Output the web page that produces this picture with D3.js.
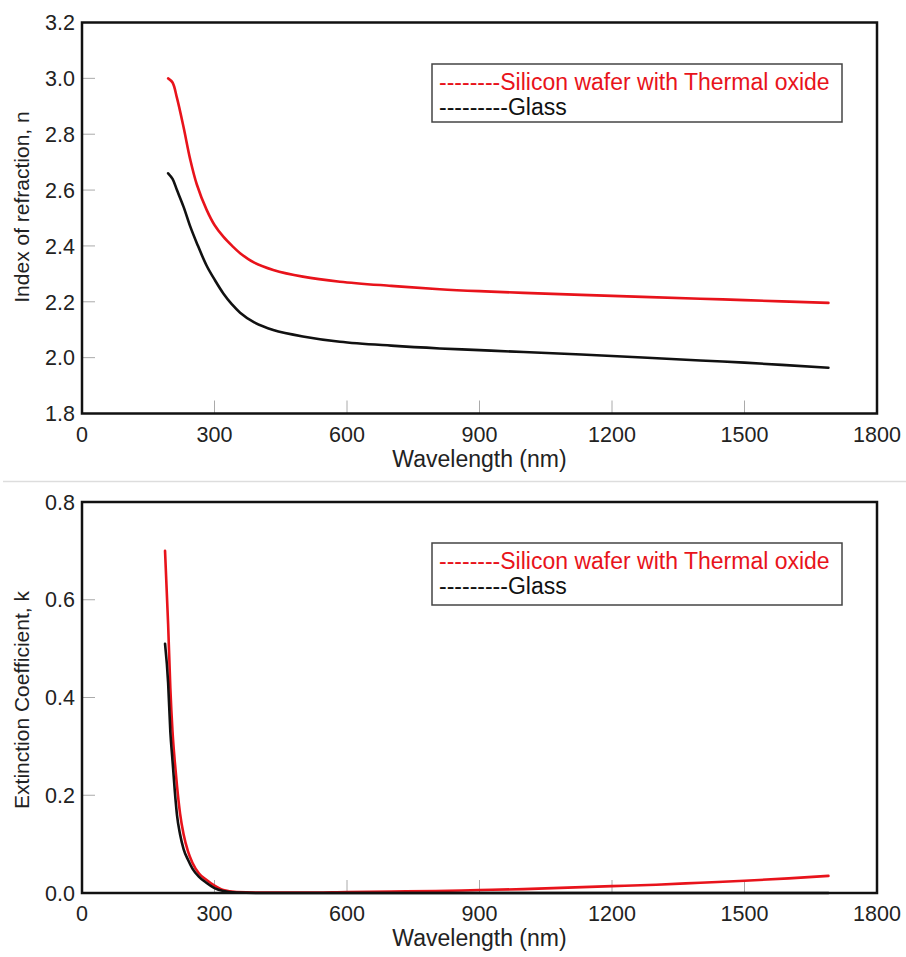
<!DOCTYPE html>
<html lang="en">
<head>
    <meta charset="UTF-8">
    <title>Refractive index and extinction coefficient</title>
    <script src="https://d3js.org/d3.v7.min.js"></script>
    <style>
        body { margin: 0; background: #fff; }
        text { font-family: "Liberation Sans", Arial, sans-serif; }
    </style>
</head>
<body>
    <svg id="chart" width="906" height="957"></svg>
    <script>
        // top panel: index of refraction n
        const nWavelength = [195, 205, 215, 230, 245, 260, 282, 300, 320, 340, 358, 390, 433, 500, 584, 700, 810, 900, 1000, 1200, 1400, 1500, 1690];
        const nSilicon = [3.00, 2.985, 2.93, 2.825, 2.71, 2.62, 2.53, 2.475, 2.433, 2.40, 2.374, 2.34, 2.314, 2.29, 2.272, 2.257, 2.245, 2.238, 2.232, 2.221, 2.211, 2.206, 2.196];
        const nGlass = [2.66, 2.64, 2.60, 2.54, 2.47, 2.41, 2.33, 2.28, 2.23, 2.19, 2.161, 2.126, 2.099, 2.076, 2.057, 2.043, 2.033, 2.027, 2.020, 2.006, 1.990, 1.982, 1.964];

        // bottom panel: extinction coefficient k
        const kWavelength = [188, 195, 200, 205, 210, 215, 222, 230, 240, 250, 265, 280, 300, 320, 350, 400, 500, 600, 700, 800, 900, 1000, 1100, 1200, 1300, 1400, 1500, 1600, 1690];
        const kSilicon = [0.70, 0.55, 0.42, 0.33, 0.27, 0.22, 0.163, 0.12, 0.085, 0.062, 0.040, 0.028, 0.015, 0.006, 0.002, 0.001, 0.001, 0.002, 0.003, 0.004, 0.006, 0.008, 0.011, 0.014, 0.017, 0.021, 0.025, 0.030, 0.035];
        const kGlass = [0.51, 0.43, 0.33, 0.27, 0.21, 0.16, 0.12, 0.09, 0.068, 0.05, 0.033, 0.022, 0.010, 0.004, 0.001, 0, 0, 0, 0, 0, 0, 0, 0, 0, 0, 0, 0, 0, 0];

        const xTicks = [0, 300, 600, 900, 1200, 1500, 1800];
        const nTicks = [1.8, 2.0, 2.2, 2.4, 2.6, 2.8, 3.0, 3.2];
        const kTicks = [0.0, 0.2, 0.4, 0.6, 0.8];

        const seriesNames = ["--------Silicon wafer with Thermal oxide", "---------Glass"];
        const red = "#e8131b", black = "#111";

        const svg = d3.select("#chart");

        function drawPanel(opt) {
            const left = 82, right = 877;
            const x = d3.scaleLinear().domain([0, 1800]).range([left, right]);
            const y = d3.scaleLinear().domain(opt.yDomain).range([opt.bottom, opt.top]);
            const g = svg.append("g");

            // inner grey ticks
            g.selectAll(".xt").data(xTicks.slice(1, -1)).enter().append("line")
                .attr("x1", d => x(d)).attr("x2", d => x(d))
                .attr("y1", opt.bottom).attr("y2", opt.bottom - 13)
                .attr("stroke", "#aaa").attr("stroke-width", 1);
            g.selectAll(".yt").data(opt.yTicks.slice(1, -1)).enter().append("line")
                .attr("x1", left).attr("x2", left + 13)
                .attr("y1", d => y(d)).attr("y2", d => y(d))
                .attr("stroke", "#aaa").attr("stroke-width", 1);

            const line = d3.line()
                .x(d => x(d[0]))
                .y(d => y(d[1]))
                .curve(opt.curve);

            opt.series.forEach(s => {
                g.append("path")
                    .datum(opt.wl.map((w, i) => [w, s.values[i]]))
                    .attr("fill", "none")
                    .attr("stroke", s.color)
                    .attr("stroke-width", 2.6)
                    .attr("stroke-linejoin", "round")
                    .attr("stroke-linecap", "round")
                    .attr("d", line);
            });

            // frame
            g.append("rect")
                .attr("x", left).attr("y", opt.top)
                .attr("width", right - left).attr("height", opt.bottom - opt.top)
                .attr("fill", "none").attr("stroke", "#111").attr("stroke-width", 2.5);

            // tick labels
            g.selectAll(".xl").data(xTicks).enter().append("text")
                .attr("x", d => x(d)).attr("y", opt.bottom + 28)
                .attr("text-anchor", "middle")
                .attr("font-size", 21.5).attr("fill", "#222")
                .text(d => d);
            g.selectAll(".yl").data(opt.yTicks).enter().append("text")
                .attr("x", left - 7).attr("y", d => y(d))
                .attr("dy", "0.36em")
                .attr("text-anchor", "end")
                .attr("font-size", 21.5).attr("fill", "#222")
                .text(d => d.toFixed(1));

            // axis titles
            g.append("text")
                .attr("x", (left + right) / 2).attr("y", opt.bottom + 53)
                .attr("text-anchor", "middle")
                .attr("font-size", 23).attr("fill", "#222")
                .text("Wavelength (nm)");
            g.append("text")
                .attr("transform", `translate(29,${opt.labelY}) rotate(-90)`)
                .attr("text-anchor", "middle")
                .attr("font-size", 21).attr("fill", "#222")
                .text(opt.yLabel);

            // legend
            const lg = g.append("g");
            lg.append("rect")
                .attr("x", 432).attr("y", opt.legendTop)
                .attr("width", 410).attr("height", opt.legendH)
                .attr("fill", "#fff").attr("stroke", "#444").attr("stroke-width", 1.5);
            opt.series.forEach((s, i) => {
                lg.append("text")
                    .attr("x", 439).attr("y", opt.legendTop + 18 + i * 25)
                    .attr("dy", "0.36em")
                    .attr("font-size", 23).attr("fill", s.color)
                    .text(seriesNames[i]);
            });
        }

        drawPanel({
            top: 22.5, bottom: 413.5, yDomain: [1.8, 3.2], yTicks: nTicks,
            yLabel: "Index of refraction, n", labelY: 207,
            wl: nWavelength, curve: d3.curveCatmullRom.alpha(0.5),
            series: [{ values: nSilicon, color: red }, { values: nGlass, color: black }],
            legendTop: 64, legendH: 58
        });

        // grey separator between panels
        svg.append("line")
            .attr("x1", 3).attr("x2", 906).attr("y1", 481.5).attr("y2", 481.5)
            .attr("stroke", "#ddd").attr("stroke-width", 1.5);

        drawPanel({
            top: 502, bottom: 893, yDomain: [0, 0.8], yTicks: kTicks,
            yLabel: "Extinction Coefficient, k", labelY: 700,
            wl: kWavelength, curve: d3.curveMonotoneX,
            series: [{ values: kSilicon, color: red }, { values: kGlass, color: black }],
            legendTop: 543, legendH: 62
        });
    </script>
</body>
</html>
